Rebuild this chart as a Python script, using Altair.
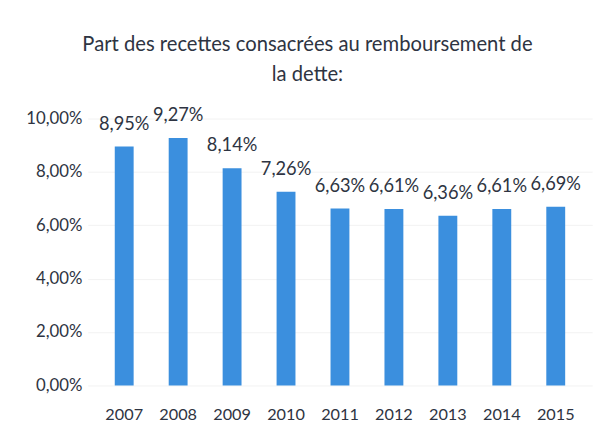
import altair as alt
import pandas as pd

years = ["2007", "2008", "2009", "2010", "2011", "2012", "2013", "2014", "2015"]
values = [8.95, 9.27, 8.14, 7.26, 6.63, 6.61, 6.36, 6.61, 6.69]
labels = ["8,95%", "9,27%", "8,14%", "7,26%", "6,63%", "6,61%", "6,36%", "6,61%", "6,69%"]

df = pd.DataFrame({"year": years, "value": values, "label": labels})

FONT = "Lato"
TXT = "#2e3442"

x = alt.X("year:N", title=None, sort=years,
          scale=alt.Scale(paddingInner=0.65, paddingOuter=0.5),
          axis=alt.Axis(labelAngle=0, ticks=False, domain=False, labelPadding=22,
                        labelFontSize=16.5, labelFont=FONT, labelColor=TXT))
y = alt.Y("value:Q", title=None,
          scale=alt.Scale(domain=[0, 10]),
          axis=alt.Axis(values=[0, 2, 4, 6, 8, 10], ticks=False, domain=False,
                        labelExpr="replace(format(datum.value, '.2f'), '.', ',') + '%'",
                        labelPadding=6, labelFontSize=17, labelFont=FONT, labelColor=TXT,
                        grid=True, gridColor="#f2f2f2", gridWidth=1))

bars = alt.Chart(df).mark_bar(color="#3b8fde").encode(x=x, y=y)
text = alt.Chart(df).mark_text(baseline="alphabetic", dy=-17, fontSize=18.5,
                               font=FONT, color=TXT).encode(x=x, y=y, text="label:N")

chart = (bars + text).properties(
    width=512, height=271,
    title=alt.TitleParams(
        text=["Part des recettes consacrées au remboursement de", "la dette:"],
        font=FONT, fontSize=20.5, fontWeight="normal", color=TXT,
        anchor="middle", dx=-33, offset=21, lineHeight=31),
    autosize=alt.AutoSizeParams(type="none"),
    padding={"left": 81, "top": 109, "right": 10, "bottom": 40},
    background="#ffffff",
).configure_view(stroke=None)

chart.save("out.html", embed_options={"renderer": "svg", "actions": False})
